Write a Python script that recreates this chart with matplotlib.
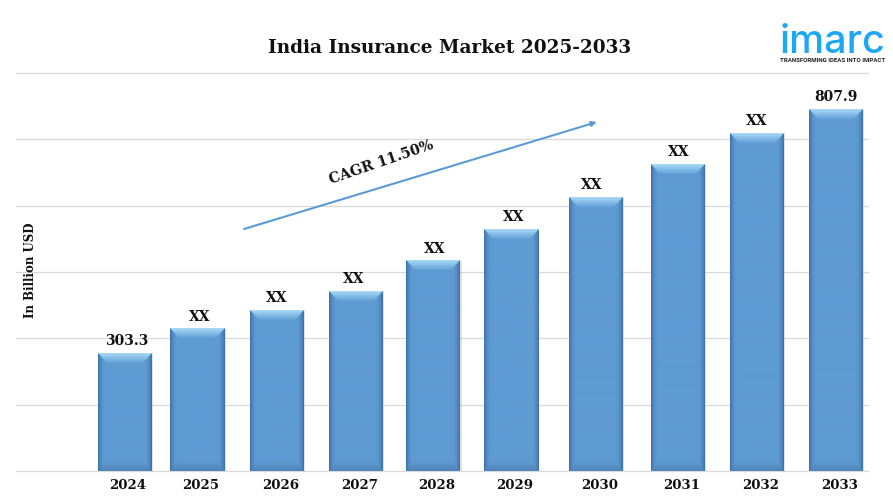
import numpy as np
import matplotlib
matplotlib.use("Agg")
import matplotlib.pyplot as plt
from matplotlib.colors import to_rgb
from matplotlib.transforms import ScaledTranslation

years = ["2024", "2025", "2026", "2027", "2028", "2029", "2030", "2031", "2032", "2033"]
values = [303.3, 353, 392, 431.5, 493.6, 559.7, 625.9, 694, 758, 807.9]
labels = ["303.3", "XX", "XX", "XX", "XX", "XX", "XX", "XX", "XX", "807.9"]
title = "India Insurance Market 2025-2033"
y_label = "In Billion USD"
cagr_label = "CAGR 11.50%"

# layout
W, H = 893, 497
L, R, T, B = 16, 868, 73, 471
slots = [0, 0.918, 1.93, 2.93, 3.911, 4.892, 5.968, 7.006, 8.006, 9.006]
label_dx = [2, 3, 0, -2, 1, 3, -4, 1, 0, 0]
SLOT_PX = 79.0
FIRST_PX = 124.5
BAR_PX = 54.0
Y_MIN, Y_MAX = 59.3, 882.4
SERIF = "DejaVu Serif"

fig = plt.figure(figsize=(W / 100, H / 100), dpi=100, facecolor="white")
ax = fig.add_axes([L / W, 1 - B / H, (R - L) / W, (B - T) / H])
ax.set_xlim((L - FIRST_PX) / SLOT_PX, (R - FIRST_PX) / SLOT_PX)
ax.set_ylim(Y_MIN, Y_MAX)
ax.set_yticks(np.linspace(Y_MIN, Y_MAX, 7))
ax.set_yticklabels([])
ax.grid(axis="y", color="#d9d9d9", lw=0.9)
for g in ax.get_ygridlines():
    g.set_clip_on(False)
ax.set_axisbelow(True)
ax.tick_params(length=0)
for s in ax.spines.values():
    s.set_visible(False)

width = BAR_PX / SLOT_PX
bars = ax.bar(slots, np.array(values) - Y_MIN, bottom=Y_MIN, width=width,
              color="#5b9bd5", edgecolor="none", zorder=3)


def bevel(h, w=54, scale=3):
    """Face of a bevelled bar as an RGB array of h by w px."""
    hs, ws = int(h * scale), int(w * scale)
    yy, xx = np.mgrid[0:hs, 0:ws]
    dt = (yy + .5) / scale
    db = h - dt
    dl = (xx + .5) / scale
    dr = w - dl
    face = np.array(to_rgb("#5f9bd3"))
    img = np.ones((hs, ws, 3)) * face
    band_v = 10.0
    band_side = 6.0

    def blend(mask, t, c0, c1):
        c0, c1 = np.array(to_rgb(c0)), np.array(to_rgb(c1))
        t = np.clip(t, 0, 1)[..., None]
        col = c0 * (1 - t) + c1 * t
        img[mask] = col[mask]

    side = np.minimum(dl, dr)
    m = side < band_side
    blend(m, np.sqrt(side / band_side), "#33659a", "#5f9bd3")
    m = (db < band_v) & (db < side * 1.1)
    blend(m, db / band_v, "#4f83b6", "#5f9bd3")
    m = (dt < band_v) & (dt < side * 1.1)
    blend(m, dt / band_v, "#a9dcf8", "#629fd6")
    return img


for i, b in enumerate(bars):
    x0 = b.get_x()
    y0 = b.get_y()
    bw = b.get_width()
    bh = b.get_height()
    h_px = bh / (Y_MAX - Y_MIN) * (B - T)
    ax.bar(x0 + bw / 2 + 1 / SLOT_PX, bh, bottom=y0, width=bw + 1 / SLOT_PX,
           color="#8a8a8a", alpha=0.25, zorder=2, clip_on=False)
    ax.imshow(bevel(h_px), extent=(x0, x0 + bw, y0, y0 + bh), aspect="auto",
              zorder=3.5, interpolation="bilinear")
    ax.annotate(labels[i], (x0 + bw / 2, y0 + bh), xytext=(label_dx[i] * 0.72, 3.5),
                textcoords="offset points", ha="center", va="bottom", family=SERIF,
                fontsize=10, fontweight="bold", color="#111111", zorder=5)

ax.set_xlim((L - FIRST_PX) / SLOT_PX, (R - FIRST_PX) / SLOT_PX)
ax.set_ylim(Y_MIN, Y_MAX)

ax.set_xticks(slots)
ax.set_xticklabels(years, family=SERIF, fontsize=9.6, fontweight="bold", color="#111111")
ax.tick_params(axis="x", pad=6)
shift = ScaledTranslation(3.5 / 100, 0, fig.dpi_scale_trans)
for t in ax.get_xticklabels():
    t.set_transform(t.get_transform() + shift)


def fx(p):
    return p / W


def fy(p):
    return 1 - p / H


fig.text(fx(450), fy(48), title, ha="center", va="center", family=SERIF,
         fontsize=13.35, fontweight="bold", color="#111111")
fig.text(fx(31), fy(270), y_label, rotation=90, ha="center", va="center",
         family=SERIF, fontsize=8.5, fontweight="bold", color="#111111")
fig.text(fx(381), fy(162), cagr_label, rotation=19, ha="center", va="center",
         family=SERIF, fontsize=10.3, fontweight="bold", color="#111111", zorder=6)

ax.annotate("", xy=(fx(597), fy(122)), xytext=(fx(244), fy(229)),
            xycoords="figure fraction", textcoords="figure fraction",
            arrowprops=dict(arrowstyle="-|>,head_width=0.14,head_length=0.3", color="#5b9bd5",
                            lw=1.5, shrinkA=0, shrinkB=0), zorder=6)

# logo
fig.text(fx(833), fy(53), "imarc", ha="center", va="baseline", family="Inter",
         fontsize=28.5, fontweight="medium", color="#1ea7f2")
fig.text(fx(833), fy(61), "TRANSFORMING IDEAS INTO IMPACT", ha="center", va="center",
         family="Roboto", fontsize=4.4, fontweight="bold", color="#222222")

fig.savefig("out.png", dpi=100)
